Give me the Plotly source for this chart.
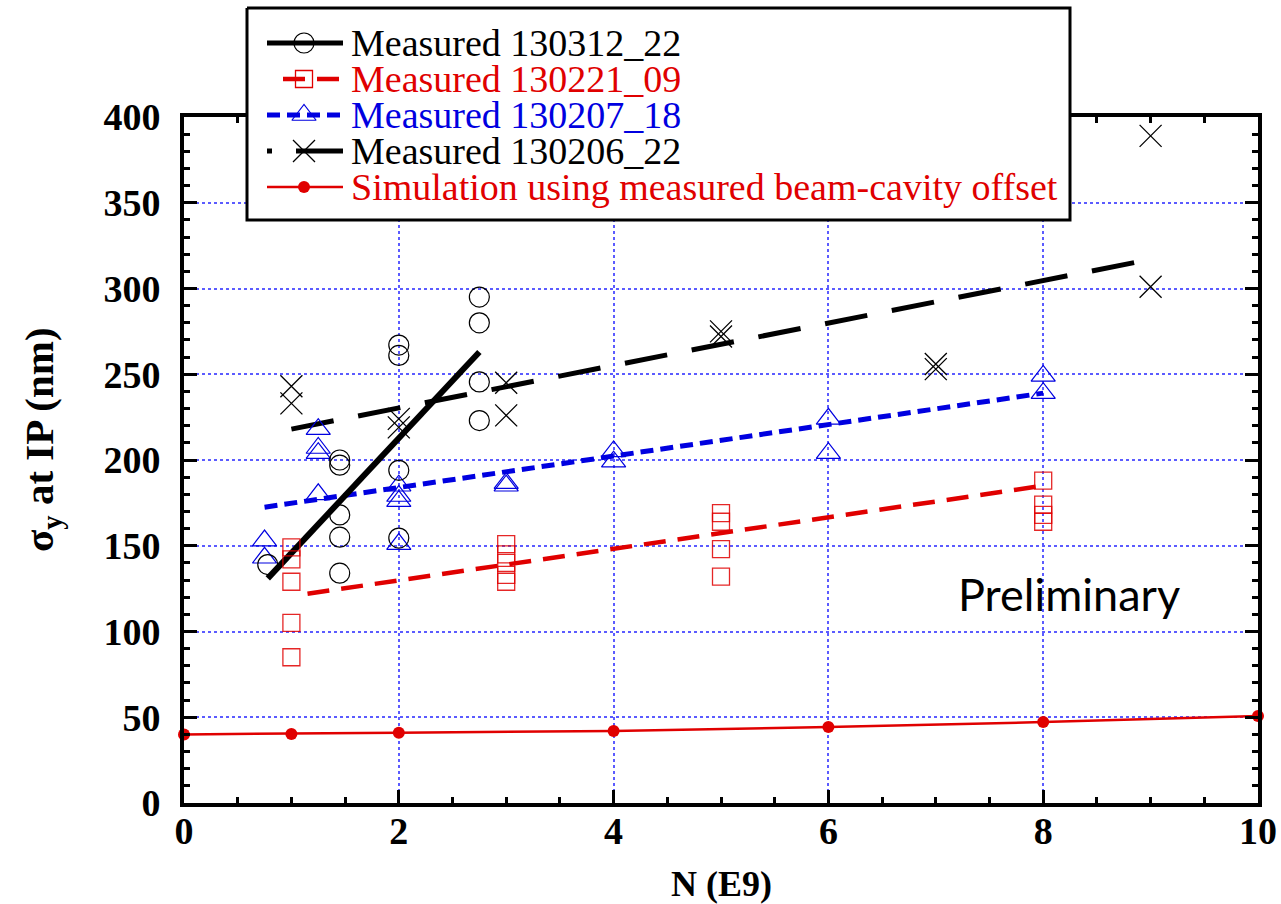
import plotly.graph_objects as go

# ---------------------------------------------------------------- data
# Measured 130312_22 (open circles) and its linear fit
x_130312 = [0.78, 1.45, 1.45, 1.45, 1.45, 1.45, 2, 2, 2, 2, 2.75, 2.75, 2.75, 2.75]
y_130312 = [139, 200, 197, 168, 155, 134, 267, 261, 194, 154.5, 295, 280, 245.5, 223]
fit_x_130312 = [0.78, 2.75]
fit_y_130312 = [131, 263]

# Measured 130221_09 (open squares) and its linear fit
x_130221 = [1, 1, 1, 1, 1, 3, 3, 3, 3, 3, 5, 5, 5, 5, 8, 8, 8, 8]
y_130221 = [149, 142, 129, 105, 85, 151, 145, 140, 133, 129, 169, 164, 148, 132, 188, 174, 168, 164]
fit_x_130221 = [1.15, 8]
fit_y_130221 = [122, 185]

# Measured 130207_18 (open triangles) and its linear fit
x_130207 = [0.75, 0.75, 1.25, 1.25, 1.25, 1.25, 2, 2, 2, 2, 3, 3, 4, 4, 6, 6, 8, 8]
y_130207 = [153, 143, 218, 207, 204, 180, 185, 179, 176, 151, 186.5, 185, 205, 199, 224, 204, 249, 239]
fit_x_130207 = [0.75, 8]
fit_y_130207 = [172.5, 239]

# Measured 130206_22 (crosses) and its linear fit
x_130206 = [1, 1, 2, 2, 3, 3, 5, 5, 7, 7, 9, 9]
y_130206 = [243, 233, 224, 219, 245, 226, 275, 272, 256, 253, 389, 301]
fit_x_130206 = [1.0, 9]
fit_y_130206 = [218, 317]

# Simulation using measured beam-cavity offset
x_sim = [0, 1, 2, 4, 6, 8, 10]
y_sim = [40, 40.3, 41, 42, 44.3, 47.2, 50.7]

legend_labels = [
    "Measured 130312_22",
    "Measured 130221_09",
    "Measured 130207_18",
    "Measured 130206_22",
    "Simulation using measured beam-cavity offset",
]

# ---------------------------------------------------------------- style
W, H = 1281, 904
PL, PR, PT, PB = 184, 1258, 117, 803          # plot frame (px)
RED = "#e00000"
BLUE = "#0000e0"
GRID = "#5b5bff"
SERIF = "Liberation Serif"

fig = go.Figure()

# fit lines
fig.add_trace(go.Scatter(x=fit_x_130206, y=fit_y_130206, mode="lines",
                         line=dict(color="black", width=5, dash="43px,25px")))
fig.add_trace(go.Scatter(x=fit_x_130207, y=fit_y_130207, mode="lines",
                         line=dict(color=BLUE, width=5, dash="13px,7px")))
fig.add_trace(go.Scatter(x=fit_x_130221, y=fit_y_130221, mode="lines",
                         line=dict(color=RED, width=4.5, dash="22px,12px")))
fig.add_trace(go.Scatter(x=fit_x_130312, y=fit_y_130312, mode="lines",
                         line=dict(color="black", width=6)))

# measured points
fig.add_trace(go.Scatter(x=x_130221, y=y_130221, mode="markers", cliponaxis=False,
                         marker=dict(symbol="square-open", size=17, color="rgba(225,0,0,0.85)",
                                     line=dict(width=1.3))))
fig.add_trace(go.Scatter(x=x_130207, y=y_130207, mode="markers", cliponaxis=False,
                         marker=dict(symbol="triangle-up-open", size=21, color=BLUE,
                                     line=dict(width=1.2))))
fig.add_trace(go.Scatter(x=x_130312, y=y_130312, mode="markers", cliponaxis=False,
                         marker=dict(symbol="circle-open", size=20, color="black",
                                     line=dict(width=1.2))))
fig.add_trace(go.Scatter(x=x_130206, y=y_130206, mode="markers", cliponaxis=False,
                         marker=dict(symbol="x-thin-open", size=22, color="black",
                                     line=dict(width=1.3))))

# simulation
fig.add_trace(go.Scatter(x=x_sim, y=y_sim, mode="lines+markers", cliponaxis=False,
                         line=dict(color=RED, width=2.5),
                         marker=dict(symbol="circle", size=12, color=RED)))

# ---------------------------------------------------------------- legend box (pixel overlay)
LX0, LX1, LY0, LY1 = 247, 1070, 8, 220
rows = [43, 79, 115, 151, 187]
SYM0, SYM1, SYMC, TXT = 267, 343, 304, 350


def overlay(**kw):
    kw.setdefault("hoverinfo", "skip")
    fig.add_trace(go.Scatter(xaxis="x2", yaxis="y2", **kw))


overlay(x=[LX0, LX1, LX1, LX0, LX0], y=[LY0, LY0, LY1, LY1, LY0], mode="lines",
        fill="toself", fillcolor="white", line=dict(color="black", width=3))
# row 1
overlay(x=[SYM0, SYM1], y=[rows[0]] * 2, mode="lines", line=dict(color="black", width=5))
overlay(x=[SYMC], y=[rows[0]], mode="markers",
        marker=dict(symbol="circle-open", size=20, color="black", line=dict(width=1.2)))
# row 2
overlay(x=[283, SYM1], y=[rows[1]] * 2, mode="lines",
        line=dict(color=RED, width=4.5, dash="22px,12px"))
overlay(x=[SYMC], y=[rows[1]], mode="markers",
        marker=dict(symbol="square-open", size=17, color=RED, line=dict(width=1.3)))
# row 3
overlay(x=[SYM0, SYM1], y=[rows[2]] * 2, mode="lines",
        line=dict(color=BLUE, width=5, dash="13px,7px"))
overlay(x=[SYMC], y=[rows[2]], mode="markers",
        marker=dict(symbol="triangle-up-open", size=21, color=BLUE, line=dict(width=1.2)))
# row 4
overlay(x=[SYM0, 272], y=[rows[3]] * 2, mode="lines", line=dict(color="black", width=5))
overlay(x=[296, SYM1], y=[rows[3]] * 2, mode="lines", line=dict(color="black", width=5))
overlay(x=[SYMC], y=[rows[3]], mode="markers",
        marker=dict(symbol="x-thin-open", size=22, color="black", line=dict(width=1.3)))
# row 5
overlay(x=[SYM0, SYM1], y=[rows[4]] * 2, mode="lines", line=dict(color=RED, width=2.5))
overlay(x=[SYMC], y=[rows[4]], mode="markers", marker=dict(symbol="circle", size=12, color=RED))

label_colors = ["black", RED, BLUE, "black", RED]
annotations = []
for label, yy, col in zip(legend_labels, rows, label_colors):
    annotations.append(dict(xref="x2", yref="y2", x=TXT, y=yy, text=label, showarrow=False,
                            xanchor="left", yanchor="middle", borderpad=0,
                            font=dict(family=SERIF, size=38, color=col)))

# axis titles and watermark
annotations.append(dict(xref="x2", yref="y2", x=721, y=884, text="N (E9)", showarrow=False,
                        xanchor="center", yanchor="middle",
                        font=dict(family=SERIF, size=36, color="black", weight="bold")))
annotations.append(dict(xref="x2", yref="y2", x=42, y=440, text="σ<sub>y</sub> at IP (nm)",
                        textangle=-90, showarrow=False, xanchor="center", yanchor="middle",
                        font=dict(family=SERIF, size=41, color="black", weight="bold")))
annotations.append(dict(xref="x2", yref="y2", x=1069, y=594, text="Preliminary", showarrow=False,
                        xanchor="center", yanchor="middle",
                        font=dict(family="Lato", size=45, color="black")))

tickfont = dict(family=SERIF, size=38, color="black", weight="bold")
common = dict(showline=True, linewidth=4, linecolor="black", mirror="allticks",
              ticks="inside", ticklen=13, tickwidth=3, tickcolor="black",
              showgrid=True, gridcolor=GRID, gridwidth=1.5, griddash="dot",
              zeroline=False, tickfont=tickfont, fixedrange=True)

fig.update_layout(
    width=W, height=H, margin=dict(l=0, r=0, t=0, b=0, pad=0, autoexpand=False),
    paper_bgcolor="white", plot_bgcolor="rgba(0,0,0,0)", showlegend=False,
    xaxis=dict(domain=[PL / W, PR / W], range=[0, 10], tick0=0, dtick=2, anchor="y",
               ticklabelstandoff=-9,
               minor=dict(dtick=0.5, ticks="inside", ticklen=6, tickwidth=3,
                          tickcolor="black", showgrid=False),
               **common),
    yaxis=dict(domain=[1 - PB / H, 1 - PT / H], range=[0, 400], tick0=0, dtick=50, anchor="x",
               ticklabelstandoff=12,
               minor=dict(dtick=10, ticks="inside", ticklen=6, tickwidth=3,
                          tickcolor="black", showgrid=False),
               **common),
    xaxis2=dict(domain=[0, 1], range=[0, W], visible=False, anchor="y2", fixedrange=True),
    yaxis2=dict(domain=[0, 1], range=[H, 0], visible=False, anchor="x2", fixedrange=True),
    annotations=annotations,
)

fig.write_html("out.html")
